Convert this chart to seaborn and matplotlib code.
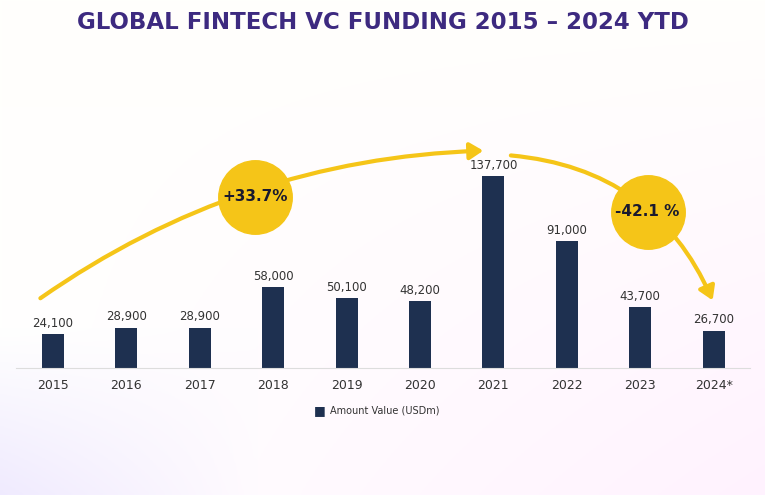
import numpy as np
import seaborn as sns
import matplotlib.pyplot as plt
from matplotlib.patches import FancyArrowPatch

years = ["2015", "2016", "2017", "2018", "2019", "2020", "2021", "2022", "2023", "2024*"]
values = [24100, 28900, 28900, 58000, 50100, 48200, 137700, 91000, 43700, 26700]

fig = plt.figure(figsize=(7.65, 4.95), dpi=100)

# soft pastel background
bg = fig.add_axes([0, 0, 1, 1], zorder=-10)
gx, gy = np.meshgrid(np.linspace(0, 1, 200), np.linspace(0, 1, 200))
r = 1 - 0.06 * np.clip(1 - gx * 3, 0, 1) * np.clip(1 - gy * 3, 0, 1)
g = 1 - 0.05 * (1 - gy) * gx - 0.08 * np.clip(1 - gx * 3, 0, 1) * np.clip(1 - gy * 3, 0, 1)
b = 1 - 0.01 * gy
img = np.clip(np.dstack([r, g, b]), 0, 1)
bg.imshow(img, extent=[0, 1, 0, 1], aspect="auto", origin="lower")
bg.axis("off")

ax = fig.add_axes([0.021, 0.257, 0.96, 0.45])
ax.set_facecolor("none")
sns.barplot(x=years, y=values, color="#1e3050", width=0.3, ax=ax, saturation=1)
ax.set_ylim(0, 160000)
ax.set_xlim(-0.5, 9.5)
for s in ["top", "right", "left"]:
    ax.spines[s].set_visible(False)
ax.spines["bottom"].set_color("#dddddd")
ax.set_yticks([])
ax.tick_params(axis="x", length=0, labelsize=9, colors="#333333", pad=8)
ax.set_xlabel("")
for i, v in enumerate(values):
    ax.text(i, v + 3000, f"{v:,}", ha="center", va="bottom", fontsize=8.5, color="#333333")

yellow = "#f5c518"
a1 = FancyArrowPatch((-0.2, 48800), (5.9, 156000), connectionstyle="arc3,rad=-0.15",
                     arrowstyle="-|>,head_length=8,head_width=5", color=yellow, lw=3, clip_on=False)
a2 = FancyArrowPatch((6.2, 152700), (9.0, 46600), connectionstyle="arc3,rad=-0.3",
                     arrowstyle="-|>,head_length=8,head_width=5", color=yellow, lw=3, clip_on=False)
ax.add_patch(a1)
ax.add_patch(a2)
ax.scatter([2.75, 8.1], [123000, 112000], s=2800, color=yellow, zorder=5, clip_on=False)
ax.text(2.75, 123000, "+33.7%", ha="center", va="center", fontsize=11, fontweight="bold", color="#1a1a2e", zorder=6)
ax.text(8.1, 112000, "-42.1 %", ha="center", va="center", fontsize=11, fontweight="bold", color="#1a1a2e", zorder=6)

fig.text(0.5, 0.955, "GLOBAL FINTECH VC FUNDING 2015 – 2024 YTD", ha="center", va="center",
         fontsize=16.5, fontweight="black", color="#3d2a80", family="DejaVu Sans")
fig.text(0.418, 0.171, "■", ha="center", va="center", fontsize=9, color="#1e3050")
fig.text(0.432, 0.171, "Amount Value (USDm)", ha="left", va="center", fontsize=7, color="#333333")

fig.savefig("out.png", dpi=100)
